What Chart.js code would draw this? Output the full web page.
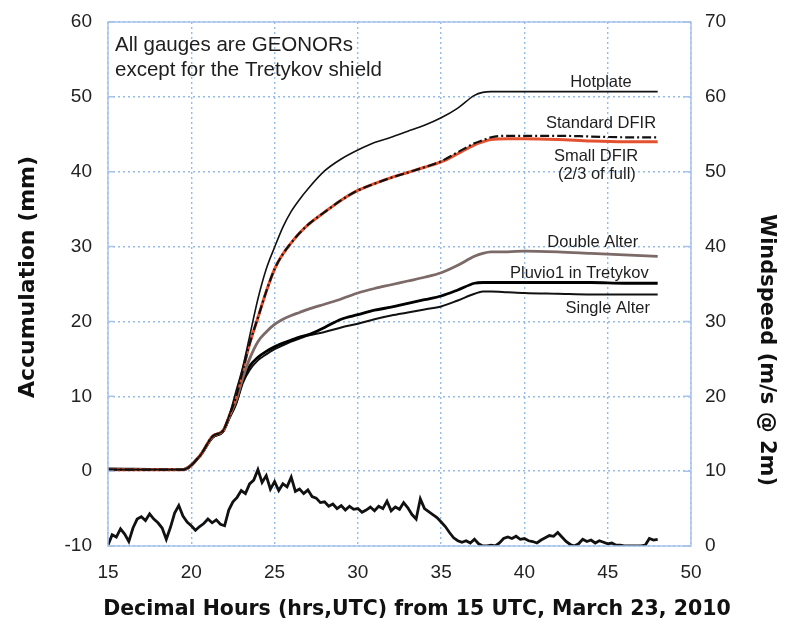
<!DOCTYPE html>
<html>
<head>
<meta charset="utf-8">
<script src="https://cdn.jsdelivr.net/npm/chart.js@4.4.1/dist/chart.umd.min.js"></script>
<style>
  html, body { margin: 0; padding: 0; background: #ffffff; }
  #wrap { width: 792px; height: 623px; }
</style>
</head>
<body>
<div id="wrap"><canvas id="chart" width="792" height="623"></canvas></div>
<script>
// hours for the accumulation traces
var hours = [15, 19.5, 20.5, 21.3, 21.9, 22.3, 22.7, 23.1, 23.5, 24, 24.5, 25, 25.5, 26, 26.5, 27, 28, 29, 30, 31, 32, 33, 34, 35, 36, 37, 37.5, 38, 39, 40, 42, 44, 46, 48];

var hotplate    = [0.2, 0.2, 2.0, 4.7, 5.4, 7.6, 10.8, 14.0, 18.0, 23.0, 27.0, 29.9, 32.6, 34.7, 36.3, 37.7, 40.1, 41.7, 42.9, 43.9, 44.6, 45.4, 46.2, 47.2, 48.5, 50.2, 50.6, 50.7, 50.7, 50.7, 50.7, 50.7, 50.7, 50.7];
var standardDfir = [0.2, 0.2, 2.0, 4.7, 5.4, 7.5, 10.0, 13.5, 17.0, 20.5, 24.0, 27.0, 29.0, 30.5, 31.8, 32.9, 34.6, 36.2, 37.5, 38.4, 39.2, 39.9, 40.6, 41.4, 42.6, 43.8, 44.2, 44.6, 44.8, 44.8, 44.8, 44.7, 44.6, 44.6];
var smallDfir   = [0.2, 0.2, 2.0, 4.7, 5.4, 7.5, 10.0, 13.5, 17.0, 20.5, 24.0, 27.0, 29.0, 30.5, 31.8, 32.9, 34.6, 36.2, 37.5, 38.4, 39.2, 39.9, 40.6, 41.3, 42.4, 43.6, 44.0, 44.3, 44.4, 44.4, 44.3, 44.1, 44.0, 44.0];
var doubleAlter = [0.2, 0.2, 2.0, 4.7, 5.4, 7.4, 9.5, 12.5, 15.0, 17.3, 18.6, 19.6, 20.3, 20.8, 21.2, 21.6, 22.3, 23.0, 23.8, 24.4, 24.9, 25.4, 25.9, 26.5, 27.5, 28.7, 29.1, 29.3, 29.3, 29.4, 29.3, 29.1, 28.9, 28.7];
var pluvio      = [0.3, 0.2, 2.0, 4.6, 5.3, 7.3, 9.3, 12.2, 14.0, 15.2, 16.0, 16.6, 17.1, 17.5, 17.9, 18.2, 19.2, 20.3, 20.9, 21.5, 21.9, 22.4, 22.9, 23.4, 24.2, 25.1, 25.2, 25.2, 25.2, 25.2, 25.2, 25.2, 25.1, 25.1];
var singleAlter = [0.2, 0.2, 1.9, 4.5, 5.2, 7.1, 9.0, 11.8, 13.5, 14.8, 15.6, 16.3, 16.8, 17.3, 17.7, 18.1, 18.6, 19.2, 19.7, 20.3, 20.8, 21.2, 21.6, 22.0, 22.8, 23.7, 24.0, 24.0, 23.9, 23.8, 23.7, 23.6, 23.6, 23.6];

// windspeed every quarter hour from 15 to 48
var windStart = 15;
var windStep = 0.25;
var wind = [
  0.1, 1.5, 1.2, 2.3, 1.6, 0.6, 2.4, 3.6, 3.9, 3.4, 4.3, 3.6, 3.1, 2.4, 0.9, 2.5,
  4.4, 5.4, 4.0, 3.2, 2.7, 2.1, 2.6, 3.0, 3.6, 3.1, 3.5, 2.9, 2.7, 4.8, 5.9, 6.5,
  7.4, 7.0, 8.3, 8.8, 10.2, 8.5, 9.4, 7.6, 8.6, 7.4, 8.3, 7.9, 9.2, 7.3, 7.6, 7.0,
  7.5, 6.6, 6.4, 5.8, 5.9, 5.3, 5.6, 5.0, 5.4, 4.8, 5.3, 4.9, 5.0, 4.5, 4.8, 5.2,
  4.7, 5.3, 5.0, 6.0, 4.7, 5.2, 4.9, 5.8, 5.1, 4.2, 3.6, 6.3, 5.0, 4.6, 4.2, 3.8,
  3.2, 2.6, 1.8, 1.1, 0.7, 0.5, 0.7, 0.4, 0.9, 0.3, 0.0, 0.0, 0.1, 0.0, 0.4, 1.0,
  1.2, 1.0, 1.3, 0.9, 1.0, 0.7, 0.6, 0.4, 0.8, 1.1, 1.4, 1.3, 1.8, 1.2, 0.6, 0.2,
  0.0, 0.3, 0.9, 0.6, 0.8, 0.4, 0.7, 0.5, 0.3, 0.4, 0.1, 0.1, 0.0, 0.0, 0.0, 0.0,
  0.0, 0.1, 1.0, 0.8, 0.9
];

var xTicks = [15, 20, 25, 30, 35, 40, 45, 50];
var yTicks = [-10, 0, 10, 20, 30, 40, 50, 60];
var y2Ticks = [0, 10, 20, 30, 40, 50, 60, 70];

var xTitle = "Decimal Hours (hrs,UTC) from 15 UTC, March 23, 2010";
var yTitle = "Accumulation (mm)";
var y2Title = "Windspeed (m/s @ 2m)";
var noteLines = ["All gauges are GEONORs", "except for the Tretykov shield"];
// series labels: text, anchor hour, anchor value (mm)
var seriesLabels = [
    ["Hotplate", 44.6, 51.9],
    ["Standard DFIR", 44.6, 46.5],
    ["Small DFIR", 44.3, 42.0],
    ["(2/3 of full)", 44.35, 39.6],
    ["Double Alter", 44.1, 30.6],
    ["Pluvio1 in Tretykov", 43.3, 26.4],
    ["Single Alter", 45.0, 21.7]
];

function pairs(xs, ys) {
    return ys.map(function (v, i) { return { x: xs[i], y: v }; });
}

var windPoints = wind.map(function (v, i) {
    return { x: windStart + i * windStep, y: v };
});

const gridBlue = "#94bbea";
const frameBlue = "#a8c3ec";

const chartBox = {
    id: "chartBox",
    afterDraw(chart) {
        const ctx = chart.ctx;
        const a = chart.chartArea;
        const x = chart.scales.x;
        const y = chart.scales.y;
        ctx.save();
        ctx.strokeStyle = frameBlue;
        ctx.lineWidth = 1.5;
        ctx.strokeRect(a.left, a.top, a.right - a.left, a.bottom - a.top);

        // short inside ticks on the left and right frame
        ctx.beginPath();
        yTicks.forEach(function (v) {
            const py = y.getPixelForValue(v);
            ctx.moveTo(a.left, py);
            ctx.lineTo(a.left + 6, py);
            ctx.moveTo(a.right, py);
            ctx.lineTo(a.right - 8, py);
        });
        ctx.stroke();

        // axis titles
        ctx.fillStyle = "#111";
        ctx.textAlign = "center";
        ctx.textBaseline = "middle";
        ctx.font = "bold 20.5px 'DejaVu Sans', sans-serif";
        ctx.fillText(xTitle, 417, 610);

        ctx.save();
        ctx.translate(28, 277);
        ctx.rotate(-Math.PI / 2);
        ctx.font = "bold 22px 'DejaVu Sans', sans-serif";
        ctx.fillText(yTitle, 0, 0);
        ctx.restore();

        ctx.save();
        ctx.translate(766, 350);
        ctx.rotate(Math.PI / 2);
        ctx.font = "bold 21px 'DejaVu Sans', sans-serif";
        ctx.fillText(y2Title, 0, 0);
        ctx.restore();

        // notes
        ctx.fillStyle = "#1e1e1e";
        ctx.font = "20.5px 'Liberation Sans', Arial, sans-serif";
        ctx.textAlign = "left";
        ctx.fillText(noteLines[0], 115, 45);
        ctx.fillText(noteLines[1], 115, 70);

        ctx.font = "16.5px 'Liberation Sans', Arial, sans-serif";
        ctx.textAlign = "center";
        seriesLabels.forEach(function (l) {
            ctx.fillText(l[0], x.getPixelForValue(l[1]), y.getPixelForValue(l[2]));
        });
        ctx.restore();
    }
};

function tickValues(list) {
    return function (scale) {
        scale.ticks = list.map(function (v) { return { value: v }; });
    };
}

// fixed box sizes so the plot area lands where the original one is
function fixWidth(w) {
    return function (s) {
        s.width = w;
        s.paddingTop = 0;
        s.paddingBottom = 0;
    };
}

const tickFont = { family: "'Liberation Sans', Arial", size: 19 };

new Chart(document.getElementById("chart").getContext("2d"), {
    type: "line",
    data: {
        // first dataset is drawn on top
        datasets: [
            { label: "Hotplate", data: pairs(hours, hotplate), borderColor: "#111111", borderWidth: 1.6 },
            { label: "Standard DFIR", data: pairs(hours, standardDfir), borderColor: "#111111", borderWidth: 2.2, borderDash: [9, 3, 2, 3] },
            { label: "Small DFIR", data: pairs(hours, smallDfir), borderColor: "#e4512f", borderWidth: 3 },
            { label: "Double Alter", data: pairs(hours, doubleAlter), borderColor: "#7b6a68", borderWidth: 2.8 },
            { label: "Pluvio1 in Tretykov", data: pairs(hours, pluvio), borderColor: "#000000", borderWidth: 2.8 },
            { label: "Single Alter", data: pairs(hours, singleAlter), borderColor: "#111111", borderWidth: 2 },
            { label: "Windspeed", data: windPoints, yAxisID: "y2", borderColor: "#111111", borderWidth: 2.8, tension: 0, cubicInterpolationMode: "default" }
        ]
    },
    options: {
        responsive: false,
        animation: false,
        layout: { padding: { top: 22, left: 0, right: 0, bottom: 0 } },
        elements: {
            point: { radius: 0 },
            line: { cubicInterpolationMode: "monotone" }
        },
        plugins: {
            legend: { display: false },
            tooltip: { enabled: false }
        },
        scales: {
            x: {
                type: "linear",
                min: 15,
                max: 50,
                afterBuildTicks: tickValues(xTicks),
                afterFit: function (s) { s.height = 77; s.paddingLeft = 0; s.paddingRight = 0; },
                grid: { color: gridBlue, lineWidth: 1.4, drawTicks: false },
                border: { display: false, dash: [2, 3] },
                ticks: { color: "#222", padding: 15, font: tickFont, maxRotation: 0 }
            },
            y: {
                position: "left",
                min: -10,
                max: 60,
                afterBuildTicks: tickValues(yTicks),
                afterFit: fixWidth(108),
                grid: { color: gridBlue, lineWidth: 1.4, drawTicks: false },
                border: { display: false, dash: [2, 3] },
                ticks: { color: "#222", padding: 16, font: tickFont }
            },
            y2: {
                position: "right",
                min: 0,
                max: 70,
                afterBuildTicks: tickValues(y2Ticks),
                afterFit: fixWidth(101),
                grid: { drawOnChartArea: false, drawTicks: false },
                border: { display: false },
                ticks: { color: "#222", padding: 14, font: tickFont }
            }
        }
    },
    plugins: [chartBox]
});
</script>
</body>
</html>
